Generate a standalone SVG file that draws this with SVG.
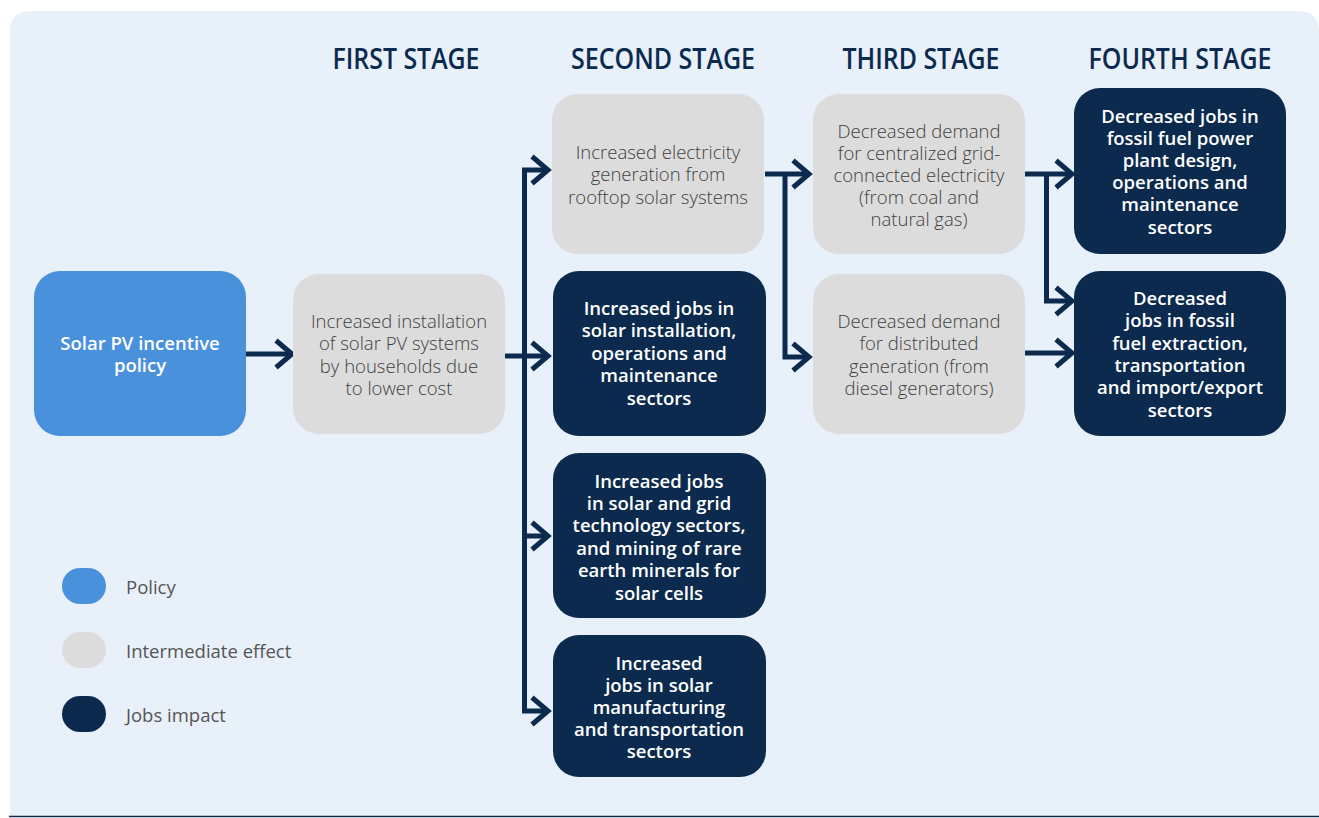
<svg xmlns="http://www.w3.org/2000/svg" width="1319" height="818" viewBox="0 0 1319 818">
<defs>
<style>
.head{font-family:"Open Sans","Liberation Sans",sans-serif;font-weight:600;font-size:28px;fill:#0b2a4e;text-anchor:middle}
.pol{fill:#4a91dc}
.mid{fill:#dcdcdc}
.job{fill:#0b2a4e}
.tw{font-family:"Open Sans","Liberation Sans",sans-serif;font-weight:600;font-size:18.5px;fill:#ffffff;text-anchor:middle}
.tg{font-family:"Open Sans","Liberation Sans",sans-serif;font-weight:300;font-size:18.5px;fill:#404040;text-anchor:middle}
.leg{font-family:"Open Sans","Liberation Sans",sans-serif;font-weight:400;font-size:18.5px;fill:#555555}
.con{fill:none;stroke:#0b2a4e;stroke-width:5}
</style>
<marker id="chev" markerUnits="userSpaceOnUse" markerWidth="24" markerHeight="32" viewBox="0 0 24 32" refX="19" refY="16" orient="auto-start-reverse" overflow="visible">
<path d="M3,2.5 L19,16 L3,29.5" fill="none" stroke="#0b2a4e" stroke-width="5"/>
</marker>
</defs>
<path d="M10,816 V32 Q10,11 31,11 H1298 Q1319,11 1319,32 V816 Z" fill="#e8f0fa"/>
<line x1="9" y1="816.5" x2="1319" y2="816.5" stroke="#0b2a4e" stroke-width="1.5"/>
<g id="headings">
<text class="head" x="406" y="69" textLength="147" lengthAdjust="spacingAndGlyphs">FIRST STAGE</text>
<text class="head" x="663" y="69" textLength="184" lengthAdjust="spacingAndGlyphs">SECOND STAGE</text>
<text class="head" x="921" y="69" textLength="157" lengthAdjust="spacingAndGlyphs">THIRD STAGE</text>
<text class="head" x="1180" y="69" textLength="183" lengthAdjust="spacingAndGlyphs">FOURTH STAGE</text>
</g>
<g id="connectors">
<path class="con" d="M246,354 H292" marker-end="url(#chev)"/>
<path class="con" d="M505,356 H548" marker-end="url(#chev)"/>
<path class="con" d="M548,711 H524.5 V170 H548" marker-start="url(#chev)" marker-end="url(#chev)"/>
<path class="con" d="M524,536 H548" marker-end="url(#chev)"/>
<path class="con" d="M765,174 H809" marker-end="url(#chev)"/>
<path class="con" d="M785,174 V357 H809" marker-end="url(#chev)"/>
<path class="con" d="M1025,174 H1072" marker-end="url(#chev)"/>
<path class="con" d="M1046.5,174 V301 H1072" marker-end="url(#chev)"/>
<path class="con" d="M1025,353 H1072" marker-end="url(#chev)"/>
</g>
<g id="policy">
<rect class="pol" x="34" y="271" width="212" height="165" rx="26"/>
<text class="tw" x="140" y="350">Solar PV incentive<tspan x="140" dy="22">policy</tspan></text>
</g>
<g id="installation">
<rect class="mid" x="293" y="274" width="212" height="160" rx="26"/>
<text class="tg" x="399" y="328">Increased installation<tspan x="399" dy="22.4">of solar PV systems</tspan><tspan x="399" dy="22.4">by households due</tspan><tspan x="399" dy="22.4">to lower cost</tspan></text>
</g>
<g id="generation">
<rect class="mid" x="552" y="94" width="212" height="160" rx="26"/>
<text class="tg" x="658" y="159">Increased electricity<tspan x="658" dy="22.4">generation from</tspan><tspan x="658" dy="22.4">rooftop solar systems</tspan></text>
</g>
<g id="jobs-installation">
<rect class="job" x="553" y="271" width="213" height="165" rx="26"/>
<text class="tw" x="659" y="315">Increased jobs in<tspan x="659" dy="22.4">solar installation,</tspan><tspan x="659" dy="22.4">operations and</tspan><tspan x="659" dy="22.4">maintenance</tspan><tspan x="659" dy="22.4">sectors</tspan></text>
</g>
<g id="jobs-technology">
<rect class="job" x="553" y="453" width="213" height="165" rx="26"/>
<text class="tw" x="659" y="487.5">Increased jobs<tspan x="659" dy="22.4">in solar and grid</tspan><tspan x="659" dy="22.4">technology sectors,</tspan><tspan x="659" dy="22.4">and mining of rare</tspan><tspan x="659" dy="22.4">earth minerals for</tspan><tspan x="659" dy="22.4">solar cells</tspan></text>
</g>
<g id="jobs-manufacturing">
<rect class="job" x="553" y="635" width="213" height="142" rx="26"/>
<text class="tw" x="659" y="669.5">Increased<tspan x="659" dy="22.2">jobs in solar</tspan><tspan x="659" dy="22.2">manufacturing</tspan><tspan x="659" dy="22.2">and transportation</tspan><tspan x="659" dy="22.2">sectors</tspan></text>
</g>
<g id="centralized">
<rect class="mid" x="813" y="94" width="212" height="160" rx="26"/>
<text class="tg" x="919" y="137.5">Decreased demand<tspan x="919" dy="22">for centralized grid-</tspan><tspan x="919" dy="22">connected electricity</tspan><tspan x="919" dy="22">(from coal and</tspan><tspan x="919" dy="22">natural gas)</tspan></text>
</g>
<g id="distributed">
<rect class="mid" x="813" y="274" width="212" height="160" rx="26"/>
<text class="tg" x="919" y="328">Decreased demand<tspan x="919" dy="22.3">for distributed</tspan><tspan x="919" dy="22.3">generation (from</tspan><tspan x="919" dy="22.3">diesel generators)</tspan></text>
</g>
<g id="fossil-power">
<rect class="job" x="1074" y="88" width="212" height="166" rx="26"/>
<text class="tw" x="1180" y="122.5">Decreased jobs in<tspan x="1180" dy="22.2">fossil fuel power</tspan><tspan x="1180" dy="22.2">plant design,</tspan><tspan x="1180" dy="22.2">operations and</tspan><tspan x="1180" dy="22.2">maintenance</tspan><tspan x="1180" dy="22.2">sectors</tspan></text>
</g>
<g id="fossil-extraction">
<rect class="job" x="1074" y="271" width="212" height="165" rx="26"/>
<text class="tw" x="1180" y="305">Decreased<tspan x="1180" dy="22.3">jobs in fossil</tspan><tspan x="1180" dy="22.3">fuel extraction,</tspan><tspan x="1180" dy="22.3">transportation</tspan><tspan x="1180" dy="22.3">and import/export</tspan><tspan x="1180" dy="22.3">sectors</tspan></text>
</g>
<g id="legend">
<rect class="pol" x="62" y="568" width="44" height="36" rx="18"/>
<text class="leg" x="126" y="594">Policy</text>
<rect class="mid" x="62" y="632" width="44" height="36" rx="18"/>
<text class="leg" x="126" y="658">Intermediate effect</text>
<rect class="job" x="62" y="696" width="44" height="36" rx="18"/>
<text class="leg" x="126" y="722">Jobs impact</text>
</g>
</svg>
